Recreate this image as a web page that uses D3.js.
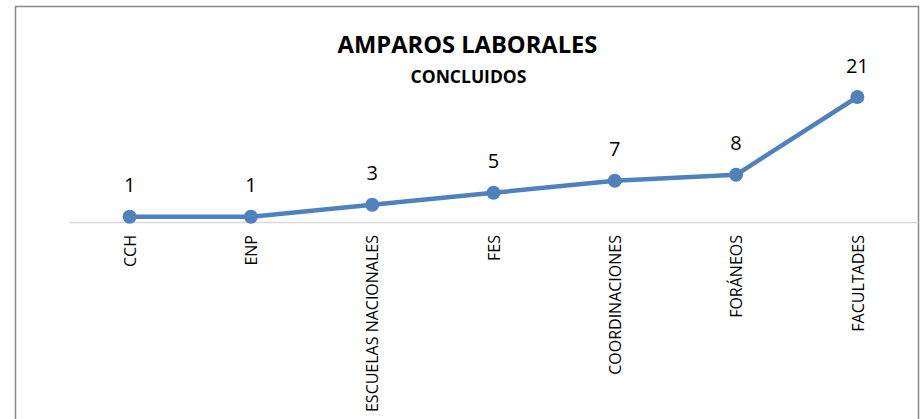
<!DOCTYPE html>
<html><head><meta charset="utf-8">
<script src="https://cdn.jsdelivr.net/npm/d3@7"></script>
<style>html,body{margin:0;padding:0;background:#fff;}svg{display:block;}</style>
</head><body>
<svg id="c" width="922" height="419"></svg>
<script>
const categories = ["CCH","ENP","ESCUELAS NACIONALES","FES","COORDINACIONES","FORÁNEOS","FACULTADES"];
const values = [1,1,3,5,7,8,21];
const title = "AMPAROS LABORALES";
const subtitle = "CONCLUIDOS";

const svg = d3.select("#c");
const font = "'Open Sans', sans-serif";

svg.append("rect").attr("x",15.5).attr("y",6.5).attr("width",903).attr("height",440)
  .attr("fill","#fff").attr("stroke","#898989").attr("stroke-width",1.5);

const x = d3.scalePoint().domain(categories).range([69,918]).padding(0.5);
const y = d3.scaleLinear().domain([0,21]).range([222.7,97]);

// category axis
const ax = svg.append("g").attr("transform","translate(0,222)")
  .call(d3.axisBottom(x).tickSize(0).tickSizeOuter(0));
ax.select(".domain").attr("stroke","#d9d9d9").attr("stroke-width",1.5);
ax.selectAll(".tick text")
  .attr("font-family",font).attr("font-size",16).attr("fill","#000")
  .attr("transform","rotate(-90)")
  .attr("text-anchor","end")
  .attr("x",-13).attr("y",0).attr("dy","0.36em");

const line = d3.line().x((d,i)=>x(categories[i])).y(d=>y(d));
svg.append("path").datum(values).attr("d",line)
  .attr("fill","none").attr("stroke","#4f81bd").attr("stroke-width",4.5)
  .attr("stroke-linejoin","round");

svg.selectAll("circle.pt").data(values).enter().append("circle")
  .attr("class","pt").attr("cx",(d,i)=>x(categories[i])).attr("cy",d=>y(d))
  .attr("r",7).attr("fill","#4f81bd");

svg.selectAll("text.lbl").data(values).enter().append("text")
  .attr("class","lbl").attr("x",(d,i)=>x(categories[i])).attr("y",d=>y(d)-24.5)
  .attr("text-anchor","middle").attr("font-family",font).attr("font-size",20)
  .attr("fill","#000").text(d=>d);

svg.append("text").attr("x",467.5).attr("y",53).attr("text-anchor","middle")
  .attr("font-family",font).attr("font-weight","bold").attr("font-size",23.7)
  .attr("fill","#000").text(title);
svg.append("text").attr("x",468.5).attr("y",82.5).attr("text-anchor","middle")
  .attr("font-family",font).attr("font-weight","bold").attr("font-size",17.5)
  .attr("fill","#000").text(subtitle);
</script>
</body></html>
